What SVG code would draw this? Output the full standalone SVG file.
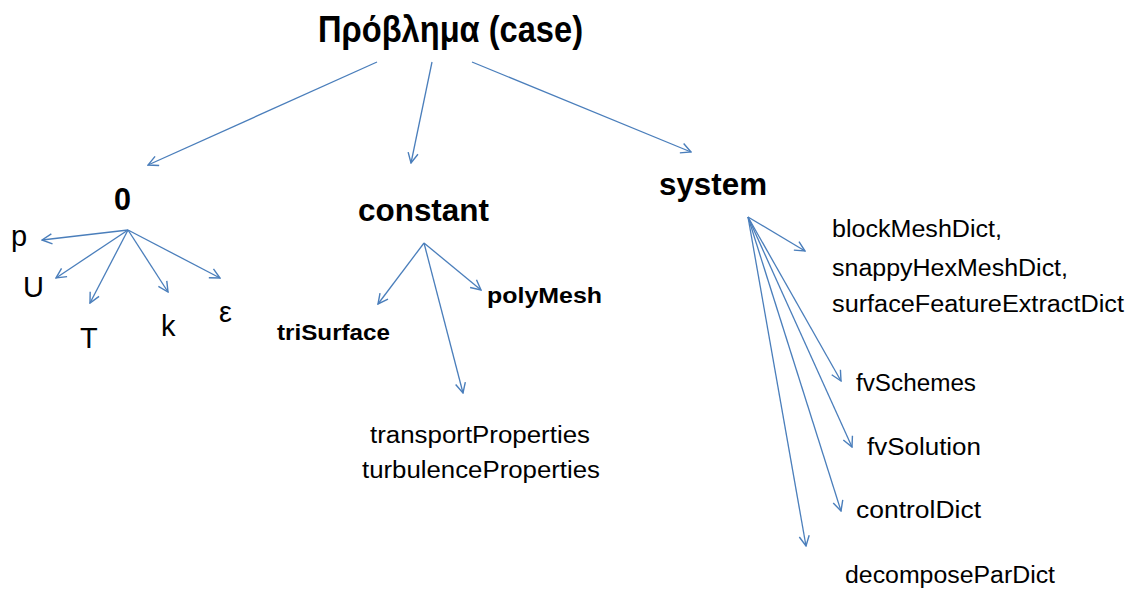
<svg xmlns="http://www.w3.org/2000/svg" width="1134" height="589" viewBox="0 0 1134 589">
  <defs>
    <marker id="open-arrow" viewBox="0 0 12 12" refX="11" refY="6" markerWidth="12" markerHeight="12" markerUnits="userSpaceOnUse" orient="auto">
      <path d="M1,1 L11,6 L1,11" fill="none" stroke="#4a7ebb" stroke-width="1.4"/>
    </marker>
    <style>
      text { font-family: "Liberation Sans", Arial, sans-serif; fill: #000; }
      .title { font-size: 36px; font-weight: bold; }
      .dir { font-size: 31px; font-weight: bold; }
      .sub { font-size: 22px; font-weight: bold; }
      .var { font-size: 29px; }
      .file { font-size: 23px; }
      .edges line { stroke: #4a7ebb; stroke-width: 1.3; marker-end: url(#open-arrow); }
    </style>
  </defs>
  <rect width="1134" height="589" fill="#fff"/>

  <g class="edges" id="connectors">
    <!-- case root to its three folders -->
    <line x1="377" y1="62" x2="148" y2="165"/>
    <line x1="432" y1="62" x2="411" y2="163"/>
    <line x1="472" y1="62" x2="691" y2="152"/>
    <!-- 0 folder fields -->
    <line x1="128" y1="230" x2="42" y2="240"/>
    <line x1="128" y1="230" x2="56" y2="278"/>
    <line x1="128" y1="230" x2="90" y2="303"/>
    <line x1="128" y1="230" x2="168" y2="292"/>
    <line x1="128" y1="230" x2="220" y2="278"/>
    <!-- constant folder contents -->
    <line x1="424" y1="243" x2="378" y2="304"/>
    <line x1="424" y1="243" x2="463" y2="393"/>
    <line x1="424" y1="243" x2="481" y2="290"/>
    <!-- system folder dictionaries -->
    <line x1="748" y1="217" x2="805" y2="251"/>
    <line x1="748" y1="217" x2="841" y2="381"/>
    <line x1="748" y1="217" x2="852" y2="447"/>
    <line x1="748" y1="217" x2="841" y2="511"/>
    <line x1="748" y1="217" x2="806" y2="546"/>
  </g>

  <g id="case"><text class="title" x="318" y="42" textLength="265" lengthAdjust="spacingAndGlyphs">Πρόβλημα (case)</text></g>

  <g id="folder-0"><text class="dir" x="114" y="210" textLength="17" lengthAdjust="spacingAndGlyphs">0</text></g>
  <g id="folder-constant"><text class="dir" x="358" y="221" textLength="131" lengthAdjust="spacingAndGlyphs">constant</text></g>
  <g id="folder-system"><text class="dir" x="659" y="195" textLength="108" lengthAdjust="spacingAndGlyphs">system</text></g>

  <g id="field-p"><text class="var" x="11" y="246">p</text></g>
  <g id="field-U"><text class="var" x="23" y="297">U</text></g>
  <g id="field-T"><text class="var" x="80" y="348">T</text></g>
  <g id="field-k"><text class="var" x="161" y="336">k</text></g>
  <g id="field-epsilon"><text class="var" x="219" y="322">ε</text></g>

  <g id="triSurface"><text class="sub" x="277" y="340" textLength="113" lengthAdjust="spacingAndGlyphs">triSurface</text></g>
  <g id="polyMesh"><text class="sub" x="487" y="303" textLength="115" lengthAdjust="spacingAndGlyphs">polyMesh</text></g>
  <g id="properties">
    <text class="file" x="370" y="443" textLength="220" lengthAdjust="spacingAndGlyphs">transportProperties</text>
    <text class="file" x="362" y="478" textLength="238" lengthAdjust="spacingAndGlyphs">turbulenceProperties</text>
  </g>

  <g id="mesh-dicts">
    <text class="file" x="832" y="237" textLength="170" lengthAdjust="spacingAndGlyphs">blockMeshDict,</text>
    <text class="file" x="832" y="276" textLength="236" lengthAdjust="spacingAndGlyphs">snappyHexMeshDict,</text>
    <text class="file" x="832" y="312" textLength="292" lengthAdjust="spacingAndGlyphs">surfaceFeatureExtractDict</text>
  </g>
  <g id="fvSchemes"><text class="file" x="856" y="391" textLength="120" lengthAdjust="spacingAndGlyphs">fvSchemes</text></g>
  <g id="fvSolution"><text class="file" x="867" y="455" textLength="114" lengthAdjust="spacingAndGlyphs">fvSolution</text></g>
  <g id="controlDict"><text class="file" x="856" y="518" textLength="125" lengthAdjust="spacingAndGlyphs">controlDict</text></g>
  <g id="decomposeParDict"><text class="file" x="845" y="583" textLength="210" lengthAdjust="spacingAndGlyphs">decomposeParDict</text></g>
</svg>
